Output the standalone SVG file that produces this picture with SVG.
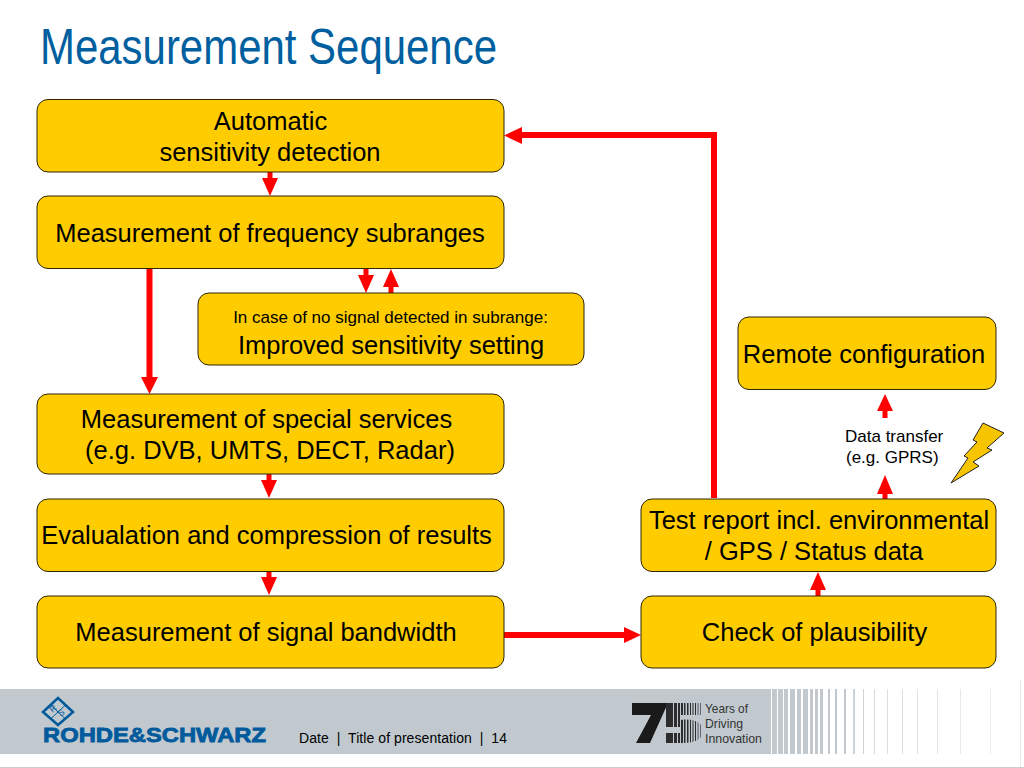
<svg xmlns="http://www.w3.org/2000/svg" width="1024" height="768" viewBox="0 0 1024 768">
<defs>
<style>
.n{fill:#ffcc00;stroke:#2e2600;stroke-width:1}
text{font-family:"Liberation Sans",Arial,sans-serif;fill:#000}
.t{font-size:25.500px;text-anchor:middle}
.s{font-size:17px}
.c{stroke:#ff0000;fill:none;stroke-width:6}
.d{stroke:#ff0000;fill:none;stroke-width:5}
.h{fill:#ff0000;stroke:none}
.y{font-size:13px;fill:#333}
</style>
<clipPath id="five"><path d="M666 703H702V715H681V720C696 718 703 724 703 731C703 739 695 743 683 743H666V733H681V727H666Z"/></clipPath>
</defs>
<rect width="1024" height="768" fill="#fff"/>
<rect x="0" y="689" width="766" height="65" fill="#c1c9cf"/>
<rect x="0" y="767" width="1024" height="1" fill="#c8ced2"/>
<rect x="1020" y="680" width="1" height="87" fill="#e8ebed"/>
<g id="stripes" fill="#c1c9cf">
<rect x="766" y="689" width="5" height="65"/><rect x="772" y="689" width="5" height="65"/><rect x="778" y="689" width="5" height="65"/><rect x="784" y="689" width="4" height="65"/><rect x="790" y="689" width="5" height="65"/><rect x="797" y="689" width="4" height="65"/><rect x="803" y="689" width="5" height="65"/><rect x="810" y="689" width="3" height="65"/><rect x="815" y="689" width="3" height="65"/><rect x="820" y="689" width="3" height="65"/><rect x="828" y="689" width="2" height="65"/><rect x="835" y="689" width="2" height="65"/><rect x="844" y="689" width="2" height="65"/><rect x="853" y="689" width="2" height="65" opacity=".8"/><rect x="863" y="689" width="1" height="65" opacity=".8"/><rect x="874" y="689" width="1" height="65" opacity=".7"/><rect x="887" y="689" width="1" height="65" opacity=".6"/><rect x="902" y="689" width="1" height="65" opacity=".6"/><rect x="917" y="689" width="1" height="65" opacity=".5"/><rect x="937" y="689" width="1" height="65" opacity=".5"/><rect x="960" y="689" width="1" height="65" opacity=".4"/><rect x="990" y="689" width="1" height="65" opacity=".3"/>
</g>
<text x="40" y="64" font-size="50" style="fill:#00609f" textLength="457" lengthAdjust="spacingAndGlyphs">Measurement Sequence</text>
<g id="connectors">
<path class="d" d="M270 172V181"/><path class="h" d="M262 178H278L270 196Z"/>
<path class="d" d="M366 269V277"/><path class="h" d="M358 275H374L366 293Z"/>
<path class="d" d="M391 293V285"/><path class="h" d="M383 287H399L391 269Z"/>
<path class="c" d="M149.500 269V378"/><path class="h" d="M141 377H158L149.500 394Z"/>
<path class="d" d="M269 474V483"/><path class="h" d="M261 480H277L269 498Z"/>
<path class="d" d="M269 572V581"/><path class="h" d="M261 577H277L269 595Z"/>
<path class="c" d="M504 635H625"/><path class="h" d="M624 627V643L641 635Z"/>
<path class="d" d="M818 596V587"/><path class="h" d="M810 590H826L818 572Z"/>
<path class="d" d="M885 499V491"/><path class="h" d="M877 494H893L885 475Z"/>
<path class="d" d="M885 418V410"/><path class="h" d="M877 411H893L885 394Z"/>
<path class="c" d="M714 498V135H520"/><path class="h" d="M522 127V144L504 135.500Z"/>
</g>
<g id="n1"><rect class="n" x="37" y="99.500" width="467" height="72.500" rx="11"/><text class="t" x="270.500" y="130">Automatic</text><text class="t" x="270" y="161">sensitivity detection</text></g>
<g id="n2"><rect class="n" x="37" y="196" width="467" height="72.500" rx="11"/><text class="t" x="270" y="242">Measurement of frequency subranges</text></g>
<g id="n3"><rect class="n" x="198" y="293" width="386" height="72" rx="11"/><text class="s" x="390.500" y="323" text-anchor="middle">In case of no signal detected in subrange:</text><text class="t" x="391" y="354">Improved sensitivity setting</text></g>
<g id="n4"><rect class="n" x="37" y="394" width="467" height="80" rx="11"/><text class="t" x="266.500" y="428">Measurement of special services</text><text class="t" x="270" y="459">(e.g. DVB, UMTS, DECT, Radar)</text></g>
<g id="n5"><rect class="n" x="37" y="499" width="467" height="72.500" rx="11"/><text class="t" x="266.500" y="544">Evalualation and compression of results</text></g>
<g id="n6"><rect class="n" x="37" y="596" width="467" height="72" rx="11"/><text class="t" x="266" y="641">Measurement of signal bandwidth</text></g>
<g id="n7"><rect class="n" x="738" y="317" width="258" height="72.500" rx="11"/><text class="t" x="864" y="363">Remote configuration</text></g>
<g id="n8"><rect class="n" x="641" y="499" width="355" height="72.500" rx="11"/><text class="t" x="819" y="529">Test report incl. environmental</text><text class="t" x="814" y="560">/ GPS / Status data</text></g>
<g id="n9"><rect class="n" x="641" y="596" width="355" height="72" rx="11"/><text class="t" x="814.500" y="641">Check of plausibility</text></g>
<g id="transfer"><text class="s" x="845" y="442">Data transfer</text><text class="s" x="846" y="463">(e.g. GPRS)</text>
<path d="M983 423L1004 433L987 448L992 450L973 462L979 466L951 483L968 458L964 456L977 442L973 440Z" fill="#f7c400" stroke="#222" stroke-width="1"/></g>
<g id="logo">
<path d="M58 698L73 712L58 725L43 712Z" fill="none" stroke="#005a9c" stroke-width="2.500"/>
<path d="M50.500 705L65.500 719M65.500 705L50.500 719" fill="none" stroke="#005a9c" stroke-width="1"/>
<text x="0" y="0" font-size="9" text-anchor="middle" transform="translate(55 711) rotate(-40)" style="fill:#005a9c">R</text>
<text x="0" y="0" font-size="9" text-anchor="middle" transform="translate(63 715) rotate(-40)" style="fill:#005a9c">S</text>
<text x="43" y="742" font-size="21" font-weight="700" style="fill:#005a9c;stroke:#005a9c;stroke-width:.8" textLength="223" lengthAdjust="spacingAndGlyphs">ROHDE&amp;SCHWARZ</text>
</g>
<text x="299" y="743" font-size="14" textLength="208" xml:space="preserve">Date  |  Title of presentation  |  14</text>
<g id="anniv">
<path d="M632 703H668L650 743H636L651 715H632Z" fill="#1a1a1a"/>
<g clip-path="url(#five)" fill="#2a2c2e">
<rect x="666" y="703" width="7" height="40"/><rect x="674" y="703" width="3" height="40"/><rect x="678" y="703" width="2" height="40"/><rect x="681" y="703" width="2" height="40"/><rect x="684" y="703" width="1.500" height="40"/><rect x="687" y="703" width="1.500" height="40"/><rect x="690" y="703" width="1" height="40"/><rect x="692.500" y="703" width="1" height="40"/><rect x="695" y="703" width="1" height="40"/><rect x="697.500" y="703" width="1" height="40" opacity=".7"/><rect x="700" y="703" width="1" height="40" opacity=".6"/>
</g>
<text class="y" x="705" y="713" textLength="43" lengthAdjust="spacingAndGlyphs">Years of</text>
<text class="y" x="705" y="728" textLength="38" lengthAdjust="spacingAndGlyphs">Driving</text>
<text class="y" x="705" y="743" textLength="57" lengthAdjust="spacingAndGlyphs">Innovation</text>
</g>
</svg>
